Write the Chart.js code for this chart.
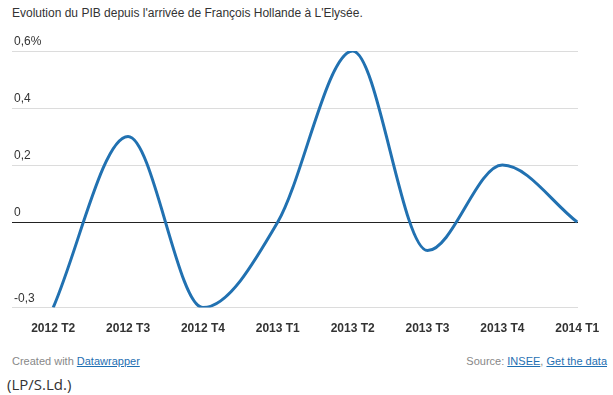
<!DOCTYPE html>
<html>
<head>
<meta charset="utf-8">
<script src="https://cdn.jsdelivr.net/npm/chart.js@4"></script>
<style>
  body { margin: 0; background: #fff; font-family: "Liberation Sans", Arial, sans-serif; color: #333; }
  #title { position: absolute; left: 12px; top: 6px; font-size: 12px; color: #333; }
  #wrap { position: absolute; left: 0; top: 0; width: 613px; height: 349px; }
  #credit { position: absolute; left: 12px; top: 355px; font-size: 11px; color: #888; }
  #source { position: absolute; right: 6px; top: 355px; font-size: 11px; color: #888; }
  a { color: #1f6fb2; text-decoration: underline; }
  #note { position: absolute; left: 7px; top: 374px; font-family: "Open Sans", sans-serif; font-size: 15px; color: #333; }
</style>
</head>
<body>
<div id="title">Evolution du PIB depuis l'arrivée de François Hollande à L'Elysée.</div>
<div id="wrap"><canvas id="lineChart"></canvas></div>
<div id="credit">Created with <a>Datawrapper</a></div>
<div id="source">Source: <a>INSEE</a>, <a>Get the data</a></div>
<div id="note">(LP/S.Ld.)</div>
<script>
const quarters = ['2012 T2', '2012 T3', '2012 T4', '2013 T1', '2013 T2', '2013 T3', '2013 T4', '2014 T1'];
const growth = [-0.3, 0.3, -0.3, 0.0, 0.6, -0.1, 0.2, 0.0];
const yTicks = [-0.3, 0, 0.2, 0.4, 0.6];
const yTickLabels = ['-0,3', '0', '0,2', '0,4', '0,6%'];

const ctx = document.getElementById('lineChart').getContext('2d');
new Chart(ctx, {
    type: 'line',
    data: {
        datasets: [{
            data: growth.map((v, i) => ({ x: i, y: v })),
            borderColor: '#2171b1',
            borderWidth: 3,
            pointRadius: 0,
            fill: false,
            cubicInterpolationMode: 'monotone'
        }]
    },
    options: {
        responsive: true,
        maintainAspectRatio: false,
        animation: false,
        layout: { padding: { left: 12, right: 35, top: 51, bottom: 7 } },
        plugins: { legend: { display: false }, tooltip: { enabled: false } },
        scales: {
            x: {
                type: 'linear',
                min: -0.55,
                max: 7.01,
                grid: { display: false },
                border: { display: false },
                afterBuildTicks: axis => { axis.ticks = quarters.map((q, i) => ({ value: i })); },
                ticks: {
                    autoSkip: false,
                    maxRotation: 0,
                    padding: 6,
                    color: '#333',
                    font: { family: 'Liberation Sans', size: 12, weight: 'bold' },
                    callback: value => quarters[value]
                }
            },
            y: {
                min: -0.3,
                max: 0.6,
                border: { display: false },
                grid: {
                    drawTicks: false,
                    color: c => c.tick && c.tick.value === 0 ? '#222' : '#dcdcdc'
                },
                afterBuildTicks: axis => { axis.ticks = yTicks.map(v => ({ value: v })); },
                afterFit: axis => { axis.width = 0; },
                ticks: {
                    mirror: true,
                    padding: 2,
                    labelOffset: -9,
                    color: '#333',
                    font: { family: 'Liberation Sans', size: 12 },
                    callback: value => yTickLabels[yTicks.indexOf(value)]
                }
            }
        }
    }
});
</script>
</body>
</html>
